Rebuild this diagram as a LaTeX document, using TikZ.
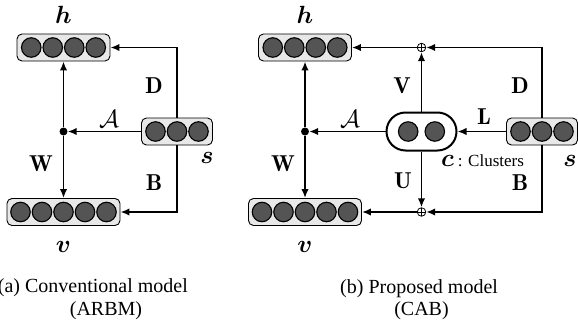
\documentclass[tikz,border=0pt]{standalone}
\usepackage{fontspec}
\usepackage{amsmath}
\usepackage{bm}
\newfontfamily\capfont{Liberation Serif}
\usetikzlibrary{calc,arrows.meta}
\newcommand{\drawunits}[2]{\foreach \k in {1,...,#2}{\node[unitc] (#1-\k) at ($(#1.center)+({(\k-(#2+1)/2)*21.5},0)$) {};}}
\tikzset{
  layerbox/.style={rectangle, rounded corners=5pt, draw, line width=0.9pt, fill=black!9, minimum height=27pt, inner sep=0pt},
  unitc/.style={circle, draw, line width=1.1pt, fill=black!67, minimum size=19.5pt, inner sep=0pt},
  clbox/.style={rectangle, rounded corners=19pt, draw, line width=2pt, fill=white, minimum width=70pt, minimum height=38pt, inner sep=0pt},
  arr/.style={line width=1.8pt, -{Latex[length=9pt,width=7.5pt]}},
  jdot/.style={circle, fill=black, minimum size=8pt, inner sep=0pt},
  opl/.style={circle, draw, line width=0.8pt, fill=white, minimum size=8.5pt, inner sep=0pt,
    path picture={\draw[line width=0.8pt] (path picture bounding box.north) -- (path picture bounding box.south) (path picture bounding box.west) -- (path picture bounding box.east);}},
  lab/.style={font=\fontsize{23}{27}\selectfont, inner sep=0pt},
  captxt/.style={font=\capfont\fontsize{20}{22}\selectfont, inner sep=0pt},
}
\begin{document}
\begin{tikzpicture}[x=1pt,y=-1pt]
\useasboundingbox (0,0) rectangle (578,327);
% ---------- (a) ----------
\node[layerbox, minimum width=93pt] (hL) at (63.5,47.5) {};
\drawunits{hL}{4}
\node[layerbox, minimum width=113pt] (vL) at (63.5,212) {};
\drawunits{vL}{5}
\node[layerbox, minimum width=71pt] (sL) at (177,131.5) {};
\drawunits{sL}{3}
\node[jdot] (dL) at (63.5,131.5) {};
\draw[arr] (sL.west) -- (dL);
\draw[arr] (dL) -- (hL.south);
\draw[arr] (dL) -- (vL.north);
\draw[arr] (sL.north) |- (hL.east);
\draw[arr] (sL.south) |- (vL.east);
\node[lab, anchor=base] (hLl) at (63.5,23) {$\bm{h}$};
\node[lab, anchor=base] (vLl) at (63.5,252) {$\bm{v}$};
\node[lab, anchor=base] (sLl) at (207,163) {$\bm{s}$};
\node[lab] (DL) at (154,85.5) {$\mathbf{D}$};
\node[lab] (BL) at (154,182.5) {$\mathbf{B}$};
\node[lab] (WL) at (41,164) {$\mathbf{W}$};
\node[lab] (AL) at (109,118.5) {$\mathcal{A}$};
\node[captxt, anchor=base east] (capa1) at (188,292) {(a) Conventional model};
\node[captxt, anchor=base] (capa2) at (106,315) {(ARBM)};
% ---------- (b) ----------
\node[layerbox, minimum width=93pt] (hR) at (305,47.5) {};
\drawunits{hR}{4}
\node[layerbox, minimum width=113pt] (vR) at (305,212) {};
\drawunits{vR}{5}
\node[layerbox, minimum width=71pt] (sR) at (542,131.5) {};
\drawunits{sR}{3}
\node[jdot] (dR) at (305,131.5) {};
\node[clbox] (cl) at (421.5,131.5) {};
\node[unitc] (cl-1) at ($(cl.center)+(-13.3,0)$) {};
\node[unitc] (cl-2) at ($(cl.center)+(13.3,0)$) {};
\node[opl] (opT) at (421.5,47.5) {};
\node[opl] (opB) at (421.5,212) {};
\draw[arr] (sR.west) -- (cl.east);
\draw[arr] (cl.west) -- (dR);
\draw[arr] (dR) -- (hR.south);
\draw[arr] (dR) -- (vR.north);
\draw[arr] (cl.north) -- (opT);
\draw[arr] (cl.south) -- (opB);
\draw[arr] (sR.north) |- (opT);
\draw[arr] (sR.south) |- (opB);
\draw[arr] (opT) -- (hR.east);
\draw[arr] (opB) -- (vR.east);
\node[lab, anchor=base] (hRl) at (305,23) {$\bm{h}$};
\node[lab, anchor=base] (vRl) at (305,252) {$\bm{v}$};
\node[lab, anchor=base] (sRl) at (570,166) {$\bm{s}$};
\node[lab] (DR) at (520,86) {$\mathbf{D}$};
\node[lab] (BR) at (520,182.5) {$\mathbf{B}$};
\node[lab] (VR) at (402,86) {$\mathbf{V}$};
\node[lab] (UR) at (403,181) {$\mathbf{U}$};
\node[lab] (WR) at (283,164) {$\mathbf{W}$};
\node[lab] (AR) at (350,118.5) {$\mathcal{A}$};
\node[lab] (LR) at (484,117) {$\mathbf{L}$};
\node[lab, anchor=base west] (clab) at (441,166) {$\bm{c}$\,{\capfont\fontsize{17}{20}\selectfont: Clusters}};
\node[captxt, anchor=base west] (capb1) at (340,293) {(b) Proposed model};
\node[captxt, anchor=base] (capb2) at (421.5,315) {(CAB)};
\end{tikzpicture}
\end{document}
